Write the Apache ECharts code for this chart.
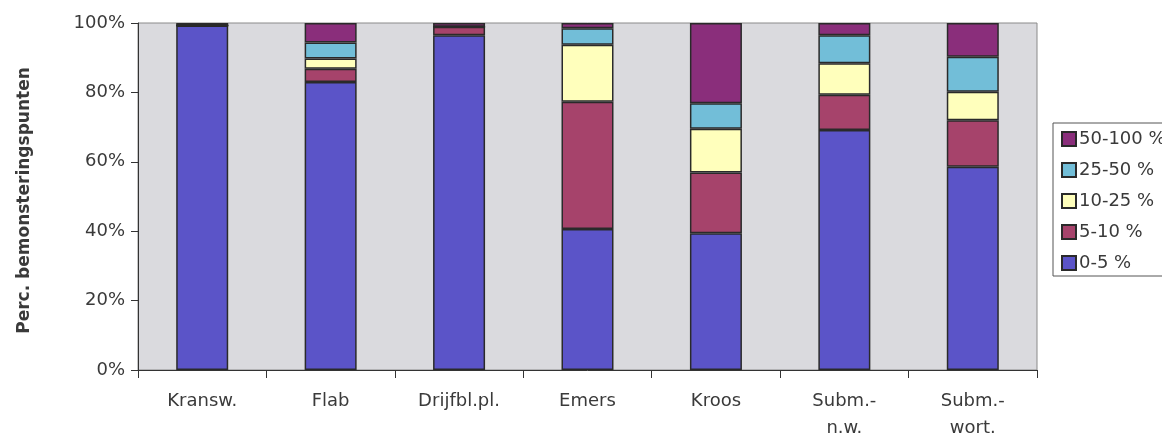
<!DOCTYPE html>
<html>
<head>
<meta charset="utf-8">
<script src="https://cdn.jsdelivr.net/npm/echarts@6/dist/echarts.min.js"></script>
<style>
html,body{margin:0;padding:0;background:#fff;}
#c{width:1162px;height:437px;}
</style>
</head>
<body>
<div id="c"></div>
<script>
const categories = ['Kransw.', 'Flab', 'Drijfbl.pl.', 'Emers', 'Kroos', 'Subm.-\nn.w.', 'Subm.-\nwort.'];
const seriesNames = ['0-5 %', '5-10 %', '10-25 %', '25-50 %', '50-100 %'];
const v0_5    = [99.3, 83.0, 96.5, 40.6, 39.4, 69.2, 58.6];
const v5_10   = [0.0,  3.8,  2.4,  36.7, 17.5, 10.1, 13.4];
const v10_25  = [0.0,  3.0,  0.0,  16.4, 12.6, 9.1,  8.2];
const v25_50  = [0.0,  4.6,  0.0,  4.8,  7.4,  8.1,  10.1];
const v50_100 = [0.7,  5.6,  1.1,  1.5,  23.1, 3.5,  9.7];
const yTicks = [0, 20, 40, 60, 80, 100];
const colors = ['#5b54c8', '#a6436b', '#ffffbc', '#72bed8', '#8a2e7b'];

const values = [v0_5, v5_10, v10_25, v25_50, v50_100];
const chart = echarts.init(document.getElementById('c'), null, {renderer: 'canvas'});
const font = 'DejaVu Sans, sans-serif';
chart.setOption({
  animation: false,
  backgroundColor: '#ffffff',
  grid: {left: 138, top: 23, width: 899, height: 347, containLabel: false, outerBoundsMode: 'none',
    show: true, backgroundColor: '#dadade', borderColor: '#8a8a8a', borderWidth: 1},
  legend: {
    orient: 'vertical', left: 1053, top: 123,
    data: seriesNames.slice().reverse(),
    backgroundColor: '#ffffff', borderColor: '#555', borderWidth: 1,
    padding: [7, 10, 4, 8],
    itemWidth: 14, itemHeight: 14, itemGap: 13,
    icon: 'rect',
    textStyle: {fontFamily: font, fontSize: 18, color: '#3a3a3a', padding: [0, 0, 0, -2]}
  },
  xAxis: {
    type: 'category', data: categories,
    axisLine: {show: true, lineStyle: {color: '#333', width: 1}},
    axisTick: {show: true, length: 8, lineStyle: {color: '#333'}},
    axisLabel: {fontFamily: font, fontSize: 18, color: '#3a3a3a', margin: 18, lineHeight: 27, interval: 0}
  },
  yAxis: {
    type: 'value', min: 0, max: 100, interval: 20,
    name: 'Perc. bemonsteringspunten', nameLocation: 'middle', nameGap: 105, nameRotate: 90,
    nameTextStyle: {fontFamily: font, fontSize: 17, color: '#3a3a3a', fontWeight: 'bold', padding: [0, 8, 0, 0]},
    axisLine: {show: true, lineStyle: {color: '#333', width: 1}},
    axisTick: {show: true, length: 7, lineStyle: {color: '#333'}},
    splitLine: {show: false},
    axisLabel: {fontFamily: font, fontSize: 18, color: '#3a3a3a', margin: 13,
      formatter: v => yTicks.includes(v) ? v + '%' : ''}
  },
  series: seriesNames.map((n, i) => ({
    name: n, type: 'bar', stack: 'total', data: values[i], barWidth: 52,
    itemStyle: {color: colors[i], borderColor: '#2a2a2a', borderWidth: 1.5}
  }))
});
</script>
</body>
</html>
